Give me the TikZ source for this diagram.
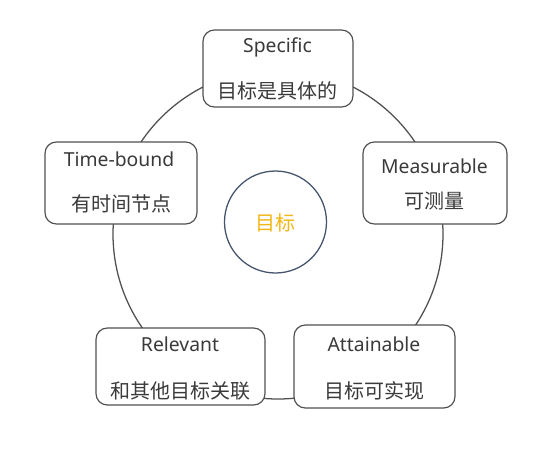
\documentclass[tikz,border=0pt]{standalone}
\usepackage{fontspec}
\setmainfont{Noto Sans}
\newfontfamily\cjk{Noto Sans CJK SC}
\definecolor{txtgray}{RGB}{58,58,58}
\definecolor{boxline}{RGB}{80,80,80}
\definecolor{ringline}{RGB}{80,80,80}
\definecolor{goalline}{RGB}{68,84,106}
\definecolor{gold}{RGB}{242,183,20}
\begin{document}
\begin{tikzpicture}[x=0.75pt,y=-0.75pt,
  smartbox/.style={draw=boxline,line width=0.9pt,rounded corners=8.5pt,fill=white,inner sep=0pt},
  entxt/.style={anchor=base,text=txtgray,inner sep=0pt,font=\fontsize{14.5pt}{16pt}\selectfont},
  cntxt/.style={anchor=base,text=txtgray,inner sep=0pt,font=\cjk\fontsize{15pt}{16pt}\selectfont}]
\useasboundingbox (0,0) rectangle (554,458);
\fill[white] (0,0) rectangle (554,458);
\node[draw=ringline,line width=0.95pt,circle,minimum size=247.5pt,inner sep=0pt] (ring) at (278,234) {};
\node[smartbox,minimum width=112.5pt,minimum height=57.75pt] (spec) at (278,68.5) {};
\node[smartbox,minimum width=108pt,minimum height=61.5pt] (meas) at (435,183) {};
\node[smartbox,minimum width=114pt,minimum height=61.5pt] (time) at (121,183) {};
\node[smartbox,minimum width=126.75pt,minimum height=57.75pt] (rel) at (180.5,366.5) {};
\node[smartbox,minimum width=120.75pt,minimum height=62.25pt] (att) at (374.5,366.5) {};
\node[draw=goalline,line width=0.95pt,circle,minimum size=76.5pt,inner sep=0pt] (goal) at (275.5,222) {};
\node[anchor=base,inner sep=0pt,text=gold,font=\cjk\fontsize{15pt}{16pt}\selectfont] (goaltxt) at (275.5,230.5) {目标};
\node[entxt] (t1) at (277.5,52) {Specific};
\node[cntxt] (c1) at (277.5,98.5) {目标是具体的};
\node[entxt] (t2) at (434.5,173) {Measurable};
\node[cntxt] (c2) at (434.5,208.5) {可测量};
\node[entxt] (t3) at (119,166) {Time-bound};
\node[cntxt] (c3) at (121,211.5) {有时间节点};
\node[entxt] (t4) at (180,351) {Relevant};
\node[cntxt] (c4) at (180.5,398.5) {和其他目标关联};
\node[entxt] (t5) at (374,351) {Attainable};
\node[cntxt] (c5) at (374.5,398.5) {目标可实现};
\end{tikzpicture}
\end{document}
